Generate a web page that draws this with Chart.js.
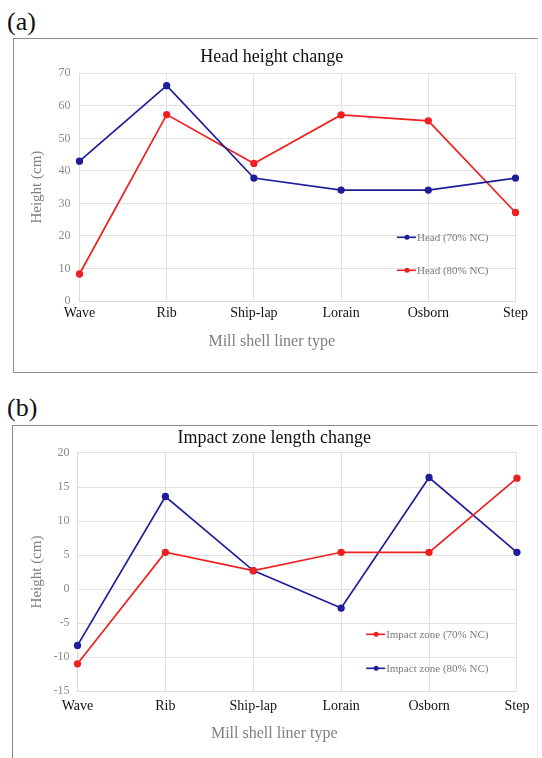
<!DOCTYPE html>
<html>
<head>
<meta charset="utf-8">
<script src="https://cdn.jsdelivr.net/npm/chart.js@4"></script>
<style>
  html, body { margin: 0; padding: 0; background: #fff; }
  body { width: 542px; height: 758px; position: relative; overflow: hidden; font-family: "Liberation Serif", serif; }
  .tag { position: absolute; left: 7px; font-size: 26px; color: #111; line-height: 1; }
  .frame { position: absolute; box-sizing: border-box; border: 1.5px solid #8c8c8c; border-right-color: #ececec; }
  canvas { position: absolute; }
</style>
</head>
<body>
<div class="tag" style="top:9px">(a)</div>
<div class="frame" style="left:13px; top:38px; width:525px; height:335px"></div>
<canvas id="head-chart" width="522" height="332" style="left:14px; top:39px"></canvas>

<div class="tag" style="top:395px">(b)</div>
<div class="frame" style="left:12px; top:425px; width:526px; height:340px"></div>
<canvas id="impact-chart" width="523" height="332" style="left:13px; top:426px"></canvas>

<script>
// Liner types along the x axis
const linerTypes = ["Wave", "Rib", "Ship-lap", "Lorain", "Osborn", "Step"];

// Head height (cm)
const head70 = [43.0, 66.2, 37.8, 34.1, 34.1, 37.8];
const head80 = [8.3, 57.3, 42.3, 57.2, 55.4, 27.2];

// Impact zone length change (cm)
const impact70 = [-11.0, 5.4, 2.7, 5.4, 5.4, 16.3];
const impact80 = [-8.3, 13.6, 2.7, -2.8, 16.4, 5.4];

const BLUE = "#1e1e9a";
const RED = "#f02020";
const SERIF = "'Liberation Serif', 'Times New Roman', serif";

// Legend drawn inside the plot area, anchored from the top-right corner
const insideLegend = {
  id: "insideLegend",
  afterDatasetsDraw(chart, args, opts) {
    const { ctx, chartArea } = chart;
    const x0 = chartArea.right - opts.right;
    ctx.save();
    ctx.font = "11px " + SERIF;
    ctx.textBaseline = "middle";
    ctx.textAlign = "left";
    chart.data.datasets.forEach((ds, i) => {
      const y = chartArea.top + opts.top + i * opts.gap;
      ctx.strokeStyle = ds.borderColor;
      ctx.lineWidth = 1.6;
      ctx.beginPath();
      ctx.moveTo(x0, y);
      ctx.lineTo(x0 + 19, y);
      ctx.stroke();
      ctx.fillStyle = ds.borderColor;
      ctx.beginPath();
      ctx.arc(x0 + 10, y, 2.5, 0, Math.PI * 2);
      ctx.fill();
      ctx.fillStyle = "#7a7a7a";
      ctx.fillText(ds.label, x0 + 20, y + 0.5);
    });
    ctx.restore();
  }
};

function makeDataset(label, data, color) {
  return {
    label: label,
    data: data,
    borderColor: color,
    backgroundColor: color,
    borderWidth: 1.7,
    pointRadius: 2.8,
    pointHoverRadius: 2.8,
    tension: 0,
    fill: false
  };
}

function makeChart(id, cfg) {
  const ctx = document.getElementById(id).getContext("2d");
  return new Chart(ctx, {
    type: "line",
    data: { labels: linerTypes, datasets: cfg.datasets },
    options: {
      responsive: false,
      animation: false,
      events: [],
      layout: { padding: cfg.padding },
      scales: {
        x: {
          grid: { color: "#e2e2e2", drawTicks: false },
          border: { color: "#dcdcdc" },
          ticks: {
            color: "#111",
            font: { family: SERIF, size: 14 },
            padding: cfg.xTickPad,
            maxRotation: 0,
            autoSkip: false
          },
          afterFit(scale) { scale.height = cfg.xHeight; }
        },
        y: {
          min: cfg.yMin,
          max: cfg.yMax,
          grid: { color: "#e2e2e2", drawTicks: false },
          border: { color: "#dcdcdc" },
          ticks: {
            stepSize: cfg.yStep,
            color: "#8a8a8a",
            font: { family: SERIF, size: 12 },
            padding: cfg.yTickPad
          },
          title: {
            display: true,
            text: "Height (cm)",
            color: "#7f7f7f",
            font: { family: SERIF, size: 15 },
            padding: { top: 0, bottom: 0 }
          },
          afterFit(scale) { scale.width = cfg.yWidth; }
        }
      },
      plugins: {
        legend: { display: false },
        tooltip: { enabled: false },
        title: {
          display: true,
          text: cfg.title,
          color: "#111",
          font: { family: SERIF, size: 18, weight: "normal" },
          padding: { top: 0, bottom: cfg.titleGap }
        },
        subtitle: {
          display: true,
          position: "bottom",
          text: "Mill shell liner type",
          color: "#7f7f7f",
          font: { family: SERIF, size: 16 },
          padding: { top: 0, bottom: 0 }
        },
        insideLegend: cfg.legend
      }
    },
    plugins: [insideLegend]
  });
}

makeChart("head-chart", {
  title: "Head height change",
  datasets: [
    makeDataset("Head (70% NC)", head70, BLUE),
    makeDataset("Head (80% NC)", head80, RED)
  ],
  yMin: 0, yMax: 70, yStep: 10,
  padding: { left: 14, right: 20.5, top: 7.7, bottom: 19.4 },
  titleGap: 5,
  yWidth: 51.5,
  yTickPad: 9,
  xHeight: 31.4,
  xTickPad: 4,
  legend: { right: 118.5, top: 164, gap: 33 }
});

makeChart("impact-chart", {
  title: "Impact zone length change",
  datasets: [
    makeDataset("Impact zone (70% NC)", impact70, RED),
    makeDataset("Impact zone (80% NC)", impact80, BLUE)
  ],
  yMin: -15, yMax: 20, yStep: 5,
  padding: { left: 14.7, right: 15.2, top: 1.2, bottom: 14.9 },
  titleGap: 4.2,
  yWidth: 49.8,
  yTickPad: 8,
  xHeight: 32.9,
  xTickPad: 6.6,
  legend: { right: 150.8, top: 181.3, gap: 34 }
});
</script>
</body>
</html>
